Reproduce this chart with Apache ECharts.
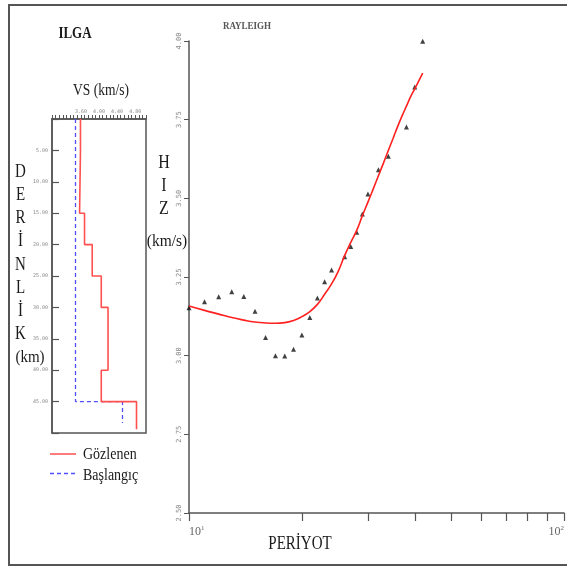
<!DOCTYPE html>
<html>
<head>
<meta charset="utf-8">
<script src="https://cdn.jsdelivr.net/npm/echarts@6/dist/echarts.min.js"></script>
<style>html,body{margin:0;padding:0;background:#fff}#c{width:567px;height:567px}</style>
</head>
<body>
<div id="c"></div>
<script>
// ---- Dispersion data (Rayleigh) ----
const periods = [10,11,12,13,14,15,16,17,18,19,20,21,22,23,24,26,27,28,29,30,32,34,38,40,42];
const observedVel = [3.152,3.171,3.187,3.203,3.188,3.141,3.058,3.000,2.999,3.020,3.066,3.121,3.183,3.235,3.272,3.314,3.347,3.392,3.450,3.514,3.591,3.634,3.727,3.854,3.999];
const curvePeriods = [10,11,12,13,14,15,16,17,18,19,20,21,22,23,24,25,26,27,28,29,30,31,32,33,34,35,36,37,38,39,40,41,42];
const curveVel = [3.158,3.144,3.132,3.121,3.113,3.107,3.104,3.103,3.105,3.112,3.124,3.140,3.163,3.195,3.228,3.268,3.318,3.360,3.398,3.445,3.488,3.530,3.572,3.612,3.652,3.690,3.728,3.762,3.793,3.823,3.848,3.873,3.898];
// ---- Velocity profile (VS vs depth) ----
const finalTops = [0,5,15,20,25,30,40,45];
const finalVs   = [3.59,3.57,3.68,3.85,4.05,4.20,4.05,4.83];
const finalBottom = 49.4;
const initTops = [0,45];
const initVs   = [3.48,4.52];
const initBottom = 48.4;
// ---- Tick labels ----
const vsLabels = [3.6,4.0,4.4,4.8];
const periodTicks = [10,20,30,40,50,60,70,80,90,100];
const periodLabels = [10,100];

function steps(tops, vs, bottom){
  const pts = [];
  for (let i=0;i<tops.length;i++){
    const end = i<tops.length-1 ? tops[i+1] : bottom;
    pts.push([vs[i], tops[i]]);
    pts.push([vs[i], end]);
  }
  return pts;
}

const serif = '"Liberation Serif", "Times New Roman", serif';
const chart = echarts.init(document.getElementById('c'));

const txt = (t, x, y, size, opts={}) => ({
  type:'text', x, y, scaleY: opts.sy || 1.2,
  style:{text:t, font:(opts.bold?'bold ':'')+size+'px '+serif, fill: opts.color||'#1a1a1a',
    align: opts.align||'center', textAlign: opts.align||'center',
    verticalAlign:'middle', textVerticalAlign:'middle'}
});

const depthLetters = ['D','E','R','İ','N','L','İ','K'];
const depthYs = [172,195,218.5,241.5,265,288,311,334];
const graphics = [
  {type:'rect', shape:{x:9,y:5,width:570,height:560}, style:{fill:'none', stroke:'#555', lineWidth:2}},
  txt('ILGA', 75, 34, 13, {bold:true, sy:1.3}),
  txt('VS (km/s)', 101, 91, 13.5, {sy:1.25}),
  txt('(km)', 30, 357.5, 15, {sy:1.15}),
  txt('H', 164, 163, 16, {sy:1.2}),
  txt('I', 164, 186, 16, {sy:1.2}),
  txt('Z', 164, 209, 16, {sy:1.2}),
  txt('(km/s)', 167, 242, 15.5, {sy:1.1}),
  txt('PERİYOT', 300, 544, 15, {sy:1.22}),
  txt('RAYLEIGH', 247, 26, 9, {bold:true, sy:1.2, color:'#555'}),
  {type:'line', shape:{x1:50,y1:454,x2:76,y2:454}, style:{stroke:'#ff5050', lineWidth:1.5}},
  {type:'line', shape:{x1:50,y1:473.5,x2:75,y2:473.5}, style:{stroke:'#5050ff', lineWidth:1.3, lineDash:[4,3]}},
  txt('Gözlenen', 83, 455, 14, {align:'left', sy:1.15}),
  txt('Başlangıç', 83, 476, 14, {align:'left', sy:1.15})
];
depthLetters.forEach((l,i)=>graphics.push(txt(l, 20.5, depthYs[i], 15, {sy:1.25})));

const option = {
  animation:false,
  backgroundColor:'#fff',
  grid:[
    {left:52, top:119, width:94, height:314, show:true, borderColor:'#555', borderWidth:1.5, backgroundColor:'transparent'},
    {left:189, top:41, width:376, height:472}
  ],
  xAxis:[
    {gridIndex:0, type:'value', position:'top', min:2.96, max:5.04, interval:0.08,
     axisLine:{show:true, lineStyle:{color:'#555', width:1.5}},
     axisTick:{show:true, inside:false, length:4, lineStyle:{color:'#555'}},
     axisLabel:{show:true, margin:5, fontSize:5, color:'#888', fontFamily:'DejaVu Sans Mono',
       formatter:v => vsLabels.some(t=>Math.abs(t-v)<1e-6) ? v.toFixed(2) : ''},
     splitLine:{show:false}},
    {gridIndex:1, type:'log', logBase:10, min:10, max:100,
     axisLine:{show:true, lineStyle:{color:'#555', width:1.5}},
     axisTick:{show:true, inside:false, length:8, customValues:periodTicks, lineStyle:{color:'#555', width:1.2}},
     axisLabel:{show:true, margin:12, customValues:periodLabels, alignMinLabel:'left', alignMaxLabel:'right',
       color:'#666', fontFamily:serif, fontSize:12,
       formatter:v => '10{s|'+Math.round(Math.log10(v))+'}',
       rich:{s:{fontSize:7, color:'#666', fontFamily:serif, verticalAlign:'top', padding:[0,0,6,0]}}},
     minorTick:{show:false}, splitLine:{show:false}}
  ],
  yAxis:[
    {gridIndex:0, type:'value', inverse:true, min:0, max:50, interval:5,
     axisLine:{show:true, lineStyle:{color:'#555', width:1.5}},
     axisTick:{show:true, inside:true, length:7, lineStyle:{color:'#555', width:1.2}},
     axisLabel:{show:true, margin:4, fontSize:5, color:'#888', fontFamily:'DejaVu Sans Mono',
       formatter:v => (v===0||v===50) ? '' : v.toFixed(2)},
     splitLine:{show:false}},
    {gridIndex:1, type:'value', min:2.5, max:4.0, interval:0.25,
     axisLine:{show:true, lineStyle:{color:'#555', width:1.5}},
     axisTick:{show:true, inside:false, length:5, lineStyle:{color:'#555'}},
     axisLabel:{show:true, rotate:90, margin:6, fontSize:7, color:'#888', fontFamily:'DejaVu Sans Mono',
       formatter:v => v.toFixed(2)},
     splitLine:{show:false}}
  ],
  series:[
    {name:'Başlangıç', type:'line', xAxisIndex:0, yAxisIndex:0, data:steps(initTops, initVs, initBottom),
     symbol:'none', lineStyle:{color:'#5050ff', width:1.3, type:[4,3]}},
    {name:'Gözlenen', type:'line', xAxisIndex:0, yAxisIndex:0, data:steps(finalTops, finalVs, finalBottom),
     symbol:'none', lineStyle:{color:'#ff5050', width:1.6}},
    {name:'Teorik', type:'line', xAxisIndex:1, yAxisIndex:1, smooth:true,
     data:curvePeriods.map((p,i)=>[p, curveVel[i]]),
     symbol:'none', lineStyle:{color:'#ff2020', width:1.6}},
    {name:'Gözlem', type:'scatter', xAxisIndex:1, yAxisIndex:1,
     data:periods.map((p,i)=>[p, observedVel[i]]),
     symbol:'triangle', symbolSize:5, itemStyle:{color:'#111'}}
  ],
  graphic: graphics
};
chart.setOption(option);
</script>
</body>
</html>
